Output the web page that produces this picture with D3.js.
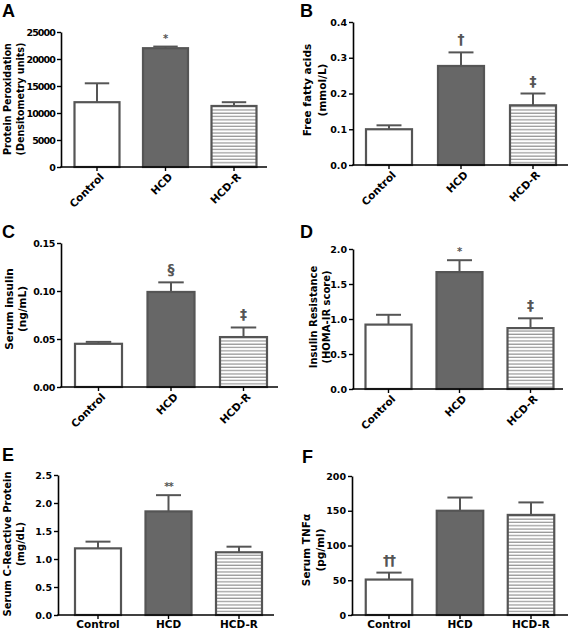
<!DOCTYPE html>
<html><head><meta charset="utf-8">
<script src="https://cdn.jsdelivr.net/npm/d3@7"></script>
<style>
html,body{margin:0;padding:0;background:#fff;}
svg{display:block;}
text{font-family:"DejaVu Sans",Verdana,sans-serif;font-weight:bold;}
</style></head>
<body>
<svg id="chart" width="571" height="631"></svg>
<script>
// ---------- DATA ----------
const categories = ["Control", "HCD", "HCD-R"];

const proteinPerox = [12000, 22000, 11300];
const proteinPeroxErr = [3500, 300, 700];
const proteinPeroxTicks = [0, 5000, 10000, 15000, 20000, 25000];
const proteinPeroxTickLabels = ["0", "5000", "10000", "15000", "20000", "25000"];
const proteinPeroxMarks = ["", "*", ""];

const ffa = [0.100, 0.277, 0.167];
const ffaErr = [0.011, 0.038, 0.033];
const ffaTicks = [0, 0.1, 0.2, 0.3, 0.4];
const ffaTickLabels = ["0.0", "0.1", "0.2", "0.3", "0.4"];
const ffaMarks = ["", "\u2020", "\u2021"];

const insulin = [0.045, 0.099, 0.052];
const insulinErr = [0.002, 0.010, 0.010];
const insulinTicks = [0, 0.05, 0.10, 0.15];
const insulinTickLabels = ["0.00", "0.05", "0.10", "0.15"];
const insulinMarks = ["", "\u00a7", "\u2021"];

const homa = [0.92, 1.67, 0.87];
const homaErr = [0.14, 0.17, 0.14];
const homaTicks = [0, 0.5, 1.0, 1.5, 2.0];
const homaTickLabels = ["0.0", "0.5", "1.0", "1.5", "2.0"];
const homaMarks = ["", "*", "\u2021"];

const crp = [1.19, 1.85, 1.12];
const crpErr = [0.12, 0.29, 0.10];
const crpTicks = [0, 0.5, 1.0, 1.5, 2.0, 2.5];
const crpTickLabels = ["0.0", "0.5", "1.0", "1.5", "2.0", "2.5"];
const crpMarks = ["", "**", ""];

const tnf = [51, 150, 144];
const tnfErr = [10, 19, 18];
const tnfTicks = [0, 50, 100, 150, 200];
const tnfTickLabels = ["0", "50", "100", "150", "200"];
const tnfMarks = ["\u2020\u2020", "", ""];

// ---------- LAYOUT ----------
const panels = [
  {letter:"A", lx:2, ly:17, values:proteinPerox, errs:proteinPeroxErr, ticks:proteinPeroxTicks, tlabels:proteinPeroxTickLabels, marks:proteinPeroxMarks,
   max:25000, axisX:61, endX:267, top:32, bottom:167, c0:97, step:68.5, bw:47, rotated:true, tickSpacing:-0.9,
   title:["Protein Peroxidation","(Densitometry units)"], tx:[8,21], ty:99, tfs:9.6},
  {letter:"B", lx:300, ly:17, values:ffa, errs:ffaErr, ticks:ffaTicks, tlabels:ffaTickLabels, marks:ffaMarks,
   max:0.4, axisX:353, endX:568, top:22, bottom:165, c0:389, step:72, bw:48, rotated:true, tickSpacing:0,
   title:["Free fatty acids","(mmol/L)"], tx:[307,322], ty:90, tfs:10.5},
  {letter:"C", lx:2, ly:238, values:insulin, errs:insulinErr, ticks:insulinTicks, tlabels:insulinTickLabels, marks:insulinMarks,
   max:0.15, axisX:61, endX:278, top:243, bottom:387, c0:98.5, step:72.5, bw:49, rotated:true, tickSpacing:-0.4,
   title:["Serum insulin","(ng/mL)"], tx:[9,22], ty:309, tfs:10.5},
  {letter:"D", lx:300, ly:238, values:homa, errs:homaErr, ticks:homaTicks, tlabels:homaTickLabels, marks:homaMarks,
   max:2.0, axisX:353, endX:563, top:249, bottom:389, c0:388.5, step:71, bw:48, rotated:true, tickSpacing:0,
   title:["Insulin Resistance","(HOMA-IR score)"], tx:[313,326], ty:317, tfs:10},
  {letter:"E", lx:2, ly:461, values:crp, errs:crpErr, ticks:crpTicks, tlabels:crpTickLabels, marks:crpMarks,
   max:2.5, axisX:58, endX:274, top:475, bottom:615, c0:98, step:70.5, bw:48, rotated:false, tickSpacing:0,
   title:["Serum C-Reactive Protein","(mg/dL)"], tx:[7,20], ty:544, tfs:10},
  {letter:"F", lx:302, ly:463, values:tnf, errs:tnfErr, ticks:tnfTicks, tlabels:tnfTickLabels, marks:tnfMarks,
   max:200, axisX:352, endX:568, top:476, bottom:615, c0:389, step:71, bw:48.5, rotated:false, tickSpacing:0,
   title:["Serum TNF\u03b1","(pg/ml)"], tx:[306,320], ty:550, tfs:10.5}
];

const svg = d3.select("#chart");
const defs = svg.append("defs");
const pat = defs.append("pattern").attr("id","stripes").attr("patternUnits","userSpaceOnUse")
  .attr("width",8).attr("height",3.3);
pat.append("rect").attr("width",8).attr("height",3.3).attr("fill","#fff");
pat.append("line").attr("x1",0).attr("x2",8).attr("y1",1).attr("y2",1).attr("stroke","#8a8a8a").attr("stroke-width",1.1);

const fills = ["#ffffff", "#676767", "url(#stripes)"];
const barStroke = "#555";

panels.forEach(p => {
  const g = svg.append("g");
  const y = d3.scaleLinear().domain([0, p.max]).range([p.bottom, p.top]);
  const x = d3.scaleBand().domain(categories)
    .range([p.c0 - p.step/2, p.c0 + p.step*2.5])
    .paddingInner(1 - p.bw/p.step).paddingOuter((1 - p.bw/p.step)/2);

  // error bars (behind bars)
  categories.forEach((c,i) => {
    const cx = x(c) + x.bandwidth()/2;
    const yt = y(p.values[i] + p.errs[i]);
    g.append("line").attr("x1",cx).attr("x2",cx).attr("y1",y(p.values[i])).attr("y2",yt)
      .attr("stroke",barStroke).attr("stroke-width",2);
    g.append("line").attr("x1",cx - x.bandwidth()*0.26).attr("x2",cx + x.bandwidth()*0.26)
      .attr("y1",yt).attr("y2",yt).attr("stroke",barStroke).attr("stroke-width",2);
  });

  // bars
  g.selectAll("rect.bar").data(categories).enter().append("rect")
    .attr("class","bar")
    .attr("x", c => x(c) + 1)
    .attr("width", x.bandwidth() - 2)
    .attr("y", (c,i) => y(p.values[i]))
    .attr("height", (c,i) => p.bottom - y(p.values[i]))
    .attr("fill", (c,i) => fills[i])
    .attr("stroke", barStroke).attr("stroke-width", 2.2);

  // significance marks
  categories.forEach((c,i) => {
    if (!p.marks[i]) return;
    const cx = x(c) + x.bandwidth()/2;
    const star = p.marks[i].indexOf("*") >= 0;
    g.append("text").attr("x",cx).attr("y", y(p.values[i] + p.errs[i]) - (star ? 5 : 8))
      .attr("text-anchor","middle")
      .attr("font-size", star ? 10 : 14)
      .attr("fill", "#555")
      .style("letter-spacing", p.marks[i].length > 1 ? "-1px" : "0")
      .text(p.marks[i]);
  });

  // y axis
  const ya = g.append("g").attr("transform",`translate(${p.axisX},0)`)
    .call(d3.axisLeft(y).tickValues(p.ticks).tickSize(4).tickSizeOuter(0).tickPadding(2)
      .tickFormat((d,i) => p.tlabels[i]));
  ya.select(".domain").attr("stroke","#000").attr("stroke-width",1.6);
  ya.selectAll(".tick line").attr("stroke","#000").attr("stroke-width",1.4);
  ya.selectAll(".tick text").attr("font-size",9.5).attr("fill","#000")
    .style("font-family","'DejaVu Sans',sans-serif").style("font-weight","bold")
    .style("letter-spacing", p.tickSpacing + "px");

  // x axis
  const xa = g.append("g").attr("transform",`translate(0,${p.bottom})`)
    .call(d3.axisBottom(x).tickSize(4).tickSizeOuter(0).tickPadding(3));
  xa.select(".domain").remove();
  xa.selectAll(".tick line").attr("stroke","#000").attr("stroke-width",1.4);
  g.append("line").attr("x1",p.axisX - 0.8).attr("x2",p.endX).attr("y1",p.bottom).attr("y2",p.bottom)
    .attr("stroke","#000").attr("stroke-width",1.6);
  const xt = xa.selectAll(".tick text").attr("fill","#000")
    .style("font-family","'DejaVu Sans',sans-serif").style("font-weight","bold");
  if (p.rotated) {
    xt.attr("font-size",10.5).attr("text-anchor","end")
      .attr("transform","translate(5,8) rotate(-45)").attr("dy","0.35em").attr("y",0).attr("x",0);
  } else {
    xt.attr("font-size",10.5).attr("dy","0.71em").attr("y",6);
  }

  // y axis title
  p.title.forEach((t,k) => {
    g.append("text").attr("transform",`translate(${p.tx[k]},${p.ty}) rotate(-90)`)
      .attr("text-anchor","middle").attr("dy","0.35em").attr("font-size",p.tfs).attr("fill","#000")
      .text(t);
  });

  // panel letter
  svg.append("text").attr("x",p.lx).attr("y",p.ly).attr("font-size",18)
    .style("font-family","'Liberation Sans',Arial,sans-serif").attr("fill","#000").text(p.letter);
});
</script>
</body></html>
